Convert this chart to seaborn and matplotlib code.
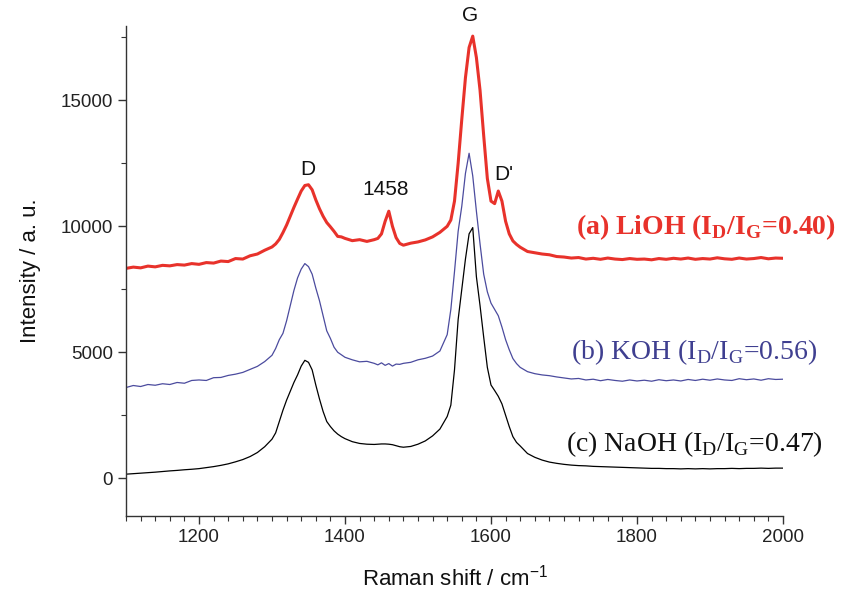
import numpy as np
import pandas as pd
import seaborn as sns
import matplotlib
matplotlib.use("Agg")
import matplotlib.pyplot as plt
from matplotlib.ticker import MultipleLocator

# Raman shift grid (cm^-1)
shift = (list(range(1100, 1301, 10)) + list(range(1305, 1401, 5)) + list(range(1410, 1441, 10))
         + list(range(1445, 1476, 5)) + list(range(1480, 1541, 10)) + list(range(1545, 1641, 5))
         + list(range(1650, 2001, 10)))

lioh = [8330, 8380, 8350, 8420, 8390, 8450, 8430, 8480, 8460, 8520, 8490, 8560, 8540, 8620, 8600, 8720,
        8700, 8830, 8900, 9050, 9180,
        9300, 9480, 9750, 10050, 10400, 10750, 11080, 11400, 11620, 11650, 11450, 11050, 10700, 10400,
        10150, 9980, 9800, 9600, 9580, 9520,
        9430, 9470, 9400, 9470,
        9520, 9700, 10200, 10600, 10000, 9550, 9320,
        9250, 9330, 9380, 9460, 9580, 9760, 10000,
        10250, 11000, 12500, 14250, 15900, 17100, 17550, 16700, 15400, 13600, 11900, 11000, 10900, 11400,
        11000, 10200, 9700, 9420, 9280, 9170,
        9000, 8950, 8900, 8870, 8800, 8780, 8740, 8760, 8700, 8730, 8690, 8740, 8700, 8680, 8720, 8690,
        8700, 8670, 8720, 8690, 8730, 8700, 8740, 8690, 8720, 8700, 8750, 8710, 8690, 8740, 8700, 8720,
        8760, 8710, 8740, 8730]

koh = [3600, 3680, 3640, 3720, 3690, 3750, 3720, 3800, 3770, 3880, 3900, 3880, 3990, 4000, 4080, 4130,
       4200, 4320, 4440, 4630, 4880,
       5150, 5500, 5750, 6250, 6850, 7450, 7950, 8300, 8520, 8400, 8100, 7550, 7050, 6450, 5850, 5550,
       5200, 5000, 4900, 4800,
       4700, 4620, 4640, 4560,
       4500, 4580, 4480, 4550, 4450, 4530, 4520,
       4560, 4600, 4700, 4760, 4850, 5050, 5700,
       6700, 8200, 9800, 10800, 12100, 12900, 12000, 10600, 9300, 8100, 7400, 6950, 6700, 6450, 6000,
       5500, 5100, 4750, 4550, 4400,
       4230, 4150, 4100, 4070, 4020, 3980, 3940, 3960, 3900, 3930, 3870, 3920, 3880, 3850, 3900, 3860,
       3890, 3850, 3910, 3870, 3900, 3860, 3920, 3880, 3930, 3890, 3940, 3900, 3880, 3950, 3910, 3940,
       3890, 3950, 3920, 3930]

naoh = [160, 180, 200, 220, 240, 265, 290, 310, 335, 355, 380, 420, 460, 510, 570, 650, 740, 860, 1020,
        1250, 1550,
        1800, 2250, 2700, 3100, 3450, 3800, 4100, 4450, 4680, 4600, 4300, 3700, 3150, 2650, 2250, 2050,
        1880, 1750, 1650, 1570,
        1450, 1380, 1350, 1340,
        1350, 1360, 1360, 1350, 1330, 1290, 1250,
        1230, 1260, 1350, 1480, 1680, 1950, 2450,
        2900, 4300, 6300, 7500, 8700, 9700, 9950, 8000, 6850, 5600, 4400, 3700, 3480, 3250, 2950, 2500,
        2050, 1650, 1420, 1280,
        980, 830, 720, 640, 590, 550, 520, 500, 490, 470, 460, 450, 440, 430, 420, 410, 400, 390, 390,
        380, 380, 370, 380, 370, 380, 370, 380, 380, 390, 380, 390, 390, 400, 390, 400, 400]

peak_labels = ["D", "1458", "G", "D'"]
peak_pos = [(1349, 12250), (1455, 11450), (1571, 18350), (1617, 12050)]

sample_labels = [r"(a) LiOH (I$_\mathregular{D}$/I$_\mathregular{G}$=0.40)",
                 r"(b) KOH (I$_\mathregular{D}$/I$_\mathregular{G}$=0.56)",
                 r"(c) NaOH (I$_\mathregular{D}$/I$_\mathregular{G}$=0.47)"]
sample_pos = [(1717, 9960), (1710, 5000), (1703, 1350)]

RED = "#e8322b"
BLUE = "#4b4b9e"
BLUE_T = "#3f3f90"

sns.set_style("ticks")
plt.rcParams["font.family"] = ["Liberation Sans", "DejaVu Sans"]
plt.rcParams["mathtext.fontset"] = "custom"
plt.rcParams["mathtext.rm"] = "Liberation Sans"

fig = plt.figure(figsize=(8.44, 5.92), dpi=100)
ax = fig.add_axes([0.1493, 0.1284, 0.7784, 0.8276])

df = pd.DataFrame({"shift": shift, "LiOH": lioh, "KOH": koh, "NaOH": naoh})
sns.lineplot(data=df, x="shift", y="NaOH", ax=ax, color="black", lw=0.9)
sns.lineplot(data=df, x="shift", y="KOH", ax=ax, color=BLUE, lw=0.9)
sns.lineplot(data=df, x="shift", y="LiOH", ax=ax, color=RED, lw=2.2)

ax.set_xlim(1100, 2000)
ax.set_ylim(-1500, 17950)
ax.xaxis.set_major_locator(MultipleLocator(200))
ax.xaxis.set_minor_locator(MultipleLocator(20))
ax.yaxis.set_major_locator(MultipleLocator(5000))
ax.yaxis.set_minor_locator(MultipleLocator(2500))
ax.set_xticks([1200, 1400, 1600, 1800, 2000])
ax.tick_params(which="major", direction="out", length=6, width=1, colors="#333333",
               labelsize=13.5, labelcolor="#222222")
ax.tick_params(which="minor", direction="out", length=3.5, width=0.8, colors="#333333")
for s in ["top", "right"]:
    ax.spines[s].set_visible(False)
for s in ["left", "bottom"]:
    ax.spines[s].set_color("#333333")
    ax.spines[s].set_linewidth(1.0)

ax.set_xlabel(r"Raman shift / cm$^{-1}$", fontsize=16, color="#111111", labelpad=13)
ax.set_ylabel("Intensity / a. u.", fontsize=16, color="#111111", labelpad=14)

for lab, (px, py) in zip(peak_labels, peak_pos):
    ax.text(px, py, lab, ha="center", va="center", fontsize=15, color="#111111", clip_on=False)

serif = ["Liberation Serif", "DejaVu Serif"]
cols = [RED, BLUE_T, "#111111"]
weights = ["bold", "normal", "normal"]
for lab, (px, py), c, w in zip(sample_labels, sample_pos, cols, weights):
    ax.text(px, py, lab, ha="left", va="center", fontsize=20, color=c, fontweight=w,
            family=serif, clip_on=False)

fig.savefig("out.png", dpi=100)
